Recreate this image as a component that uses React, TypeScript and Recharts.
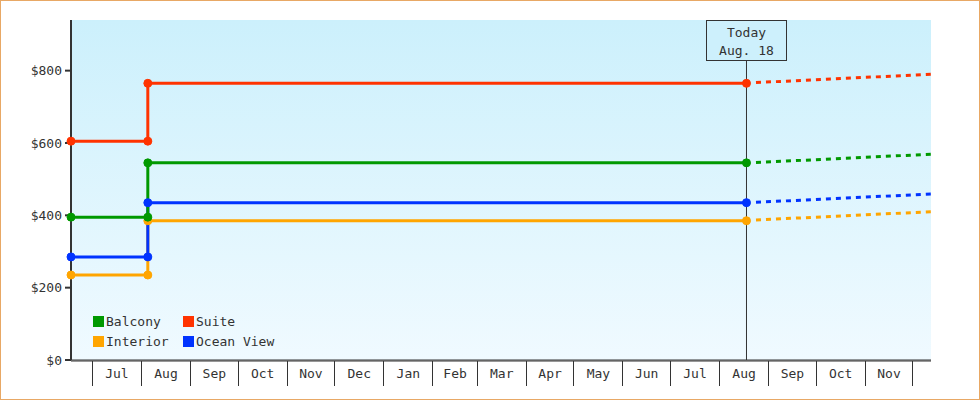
import React from 'react';
import { ComposedChart, Line, XAxis, YAxis, CartesianGrid, ReferenceLine, Legend } from 'recharts';

const FONT = '"DejaVu Sans Mono", monospace';
const INK = '#333333';

// Day numbers: 0 = Jul 1 (first year)
const stepDays = [-13.5, 35, 35, 413];
const balconyPrices = [395, 395, 545, 545];
const suitePrices = [605, 605, 765, 765];
const interiorPrices = [235, 235, 385, 385];
const oceanViewPrices = [285, 285, 435, 435];

const projectionDays = [419, 529.5];
const balconyProjection = [546, 569];
const suiteProjection = [767, 790];
const interiorProjection = [387, 410];
const oceanViewProjection = [436, 459];

const monthStartDays = [0, 31, 62, 92, 123, 153, 184, 215, 243, 274, 304, 335, 365, 396, 427, 457, 488, 518];
const monthLabels = ['Jul', 'Aug', 'Sep', 'Oct', 'Nov', 'Dec', 'Jan', 'Feb', 'Mar', 'Apr', 'May', 'Jun', 'Jul', 'Aug', 'Sep', 'Oct', 'Nov'];
const yTicks = [0, 200, 400, 600, 800];
const todayDay = 413;
const todayText = ['Today', 'Aug. 18'];
const xDomain = [-13.5, 529.5];
const yDomain = [0, 940];

const seriesNames = ['Balcony', 'Suite', 'Interior', 'Ocean View'];
const seriesColors = ['#009900', '#ff3300', '#ffa500', '#0033ff'];
const seriesPrices = [balconyPrices, suitePrices, interiorPrices, oceanViewPrices];
const seriesProjections = [balconyProjection, suiteProjection, interiorProjection, oceanViewProjection];
const drawOrder = [2, 3, 0, 1];

const toData = (days: number[], vals: number[]) => days.map((d, i) => ({ day: d, price: vals[i] }));

const monthMidDays = monthLabels.map((_, i) => (monthStartDays[i] + monthStartDays[i + 1]) / 2);
const xTicks = [...monthStartDays, ...monthMidDays].sort((a, b) => a - b);

const XTick = (props: any) => {
  const { x, y, payload } = props;
  const v = payload.value;
  const si = monthStartDays.indexOf(v);
  if (si >= 0) {
    return <line x1={x} x2={x} y1={y} y2={y + 25} stroke={INK} strokeWidth={1} shapeRendering="crispEdges" />;
  }
  const mi = monthMidDays.indexOf(v);
  return (
    <text x={x} y={y + 17} textAnchor="middle" fill={INK} fontSize={13} fontFamily={FONT}>
      {monthLabels[mi]}
    </text>
  );
};

const TodayLabel = (props: any) => {
  const vb = props.viewBox || {};
  const cx = vb.x;
  const top = vb.y;
  return (
    <g>
      <rect x={cx - 40} y={top} width={80} height={40} fill="#cdf0fc" stroke={INK} strokeWidth={1} shapeRendering="crispEdges" />
      <text x={cx} y={top + 17} textAnchor="middle" fill={INK} fontSize={13} fontFamily={FONT}>{todayText[0]}</text>
      <text x={cx} y={top + 35} textAnchor="middle" fill={INK} fontSize={13} fontFamily={FONT}>{todayText[1]}</text>
    </g>
  );
};

const LegendContent = () => (
  <div style={{ display: 'grid', gridTemplateColumns: '90px 120px', fontFamily: FONT, fontSize: 13, color: INK }}>
    {seriesNames.map((n, i) => (
      <div key={n} style={{ display: 'flex', alignItems: 'center', height: 20, whiteSpace: 'nowrap' }}>
        <span style={{ display: 'inline-block', width: 11, height: 11, background: seriesColors[i], marginRight: 2 }} />
        {n}
      </div>
    ))}
  </div>
);

export default function App() {
  return (
    <div style={{ position: 'relative', width: 980, height: 400, background: '#ffffff' }}>
      <style>{'body{margin:0}'}</style>
      <ComposedChart width={980} height={400} margin={{ top: 20, right: 49, bottom: 14, left: 0 }} style={{ fontFamily: FONT }}>
        <defs>
          <linearGradient id="plotBg" x1="0" y1="0" x2="0" y2="1">
            <stop offset="0%" stopColor="#ccf0fc" />
            <stop offset="100%" stopColor="#f0faff" />
          </linearGradient>
        </defs>
        <CartesianGrid fill="url(#plotBg)" horizontal={false} vertical={false} />
        <XAxis
          xAxisId="main"
          type="number"
          dataKey="day"
          domain={xDomain}
          ticks={xTicks}
          interval={0}
          height={25}
          tickSize={0}
          tickMargin={0}
          tickLine={false}
          axisLine={{ stroke: INK, strokeWidth: 1 }}
          tick={<XTick />}
        />
        <XAxis
          xAxisId="bottom"
          type="number"
          dataKey="day"
          domain={xDomain}
          height={1}
          tick={false}
          tickLine={false}
          axisLine={{ stroke: INK, strokeWidth: 1 }}
        />
        <YAxis
          type="number"
          domain={yDomain}
          ticks={yTicks}
          interval={0}
          width={71}
          tickFormatter={(v: number) => '$' + v}
          axisLine={{ stroke: INK, strokeWidth: 2 }}
          tickLine={{ stroke: INK, strokeWidth: 2 }}
          tickSize={6}
          tickMargin={3}
          tick={{ fill: INK, fontSize: 13, fontFamily: FONT }}
        />
        <ReferenceLine xAxisId="main" x={todayDay} stroke={INK} strokeWidth={1} label={(p: any) => <TodayLabel {...p} />} />
        {drawOrder.map((i) => (
          <Line
            key={'p' + i}
            xAxisId="main"
            data={toData(projectionDays, seriesProjections[i])}
            dataKey="price"
            type="linear"
            stroke={seriesColors[i]}
            strokeWidth={3}
            strokeDasharray="5 5"
            dot={false}
            activeDot={false}
            legendType="none"
            isAnimationActive={false}
          />
        ))}
        {drawOrder.map((i) => (
          <Line
            key={'s' + i}
            xAxisId="main"
            name={seriesNames[i]}
            data={toData(stepDays, seriesPrices[i])}
            dataKey="price"
            type="linear"
            stroke={seriesColors[i]}
            strokeWidth={3}
            dot={{ r: 4, fill: seriesColors[i], stroke: seriesColors[i], strokeWidth: 1 }}
            activeDot={false}
            isAnimationActive={false}
          />
        ))}
        <Legend
          layout="vertical"
          align="center"
          verticalAlign="middle"
          content={<LegendContent />}
          wrapperStyle={{ left: 93, top: 311, width: 'auto', height: 'auto' }}
        />
      </ComposedChart>
      <div style={{ position: 'absolute', left: 0, top: 0, width: 980, height: 400, border: '1px solid #e8a865', boxSizing: 'border-box', pointerEvents: 'none' }} />
    </div>
  );
}
